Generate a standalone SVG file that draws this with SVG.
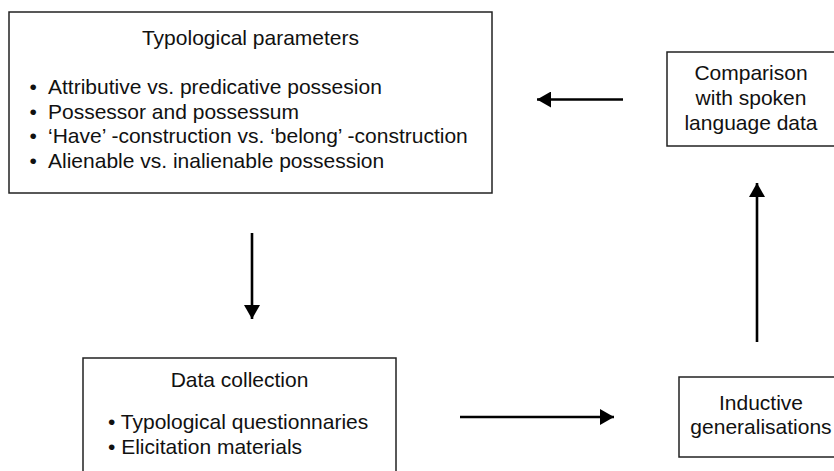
<svg xmlns="http://www.w3.org/2000/svg" width="834" height="471" viewBox="0 0 834 471">
<defs>
<style>
.box{fill:#fff;stroke:#222;stroke-width:1.5}
.t{font-family:"Liberation Sans",Arial,sans-serif;font-size:21px;fill:#111}
.c{text-anchor:middle}
.edge{stroke:#000;stroke-width:2.6;fill:none;marker-end:url(#ah)}
</style>
<marker id="ah" markerUnits="userSpaceOnUse" markerWidth="15" markerHeight="16" refX="14" refY="8" orient="auto">
<path d="M0,0 L14,8 L0,16 Z" fill="#000"/>
</marker>
</defs>
<rect width="834" height="471" fill="#fff"/>
<g id="typological">
<rect class="box" x="9" y="12" width="483" height="181"/>
<text class="t c" x="250.5" y="45">Typological parameters</text>
<text class="t" x="29.5" y="94">•<tspan x="48">Attributive vs. predicative possesion</tspan></text>
<text class="t" x="29.5" y="118.5">•<tspan x="48">Possessor and possessum</tspan></text>
<text class="t" x="29.5" y="143">•<tspan x="48">‘Have’ -construction vs. ‘belong’ -construction</tspan></text>
<text class="t" x="29.5" y="167.5">•<tspan x="48">Alienable vs. inalienable possession</tspan></text>
</g>
<g id="comparison">
<rect class="box" x="667" y="52" width="168" height="94"/>
<text class="t c" x="751" y="80">Comparison</text>
<text class="t c" x="751" y="105">with spoken</text>
<text class="t c" x="751" y="130">language data</text>
</g>
<g id="datacollection">
<rect class="box" x="83" y="358" width="313" height="130"/>
<text class="t c" x="239.5" y="387">Data collection</text>
<text class="t" x="108" y="429">• Typological questionnaries</text>
<text class="t" x="108" y="454">• Elicitation materials</text>
</g>
<g id="inductive">
<rect class="box" x="679" y="377" width="165" height="80"/>
<text class="t c" x="761" y="410">Inductive</text>
<text class="t c" x="761" y="434">generalisations</text>
</g>
<g id="connectors">
<line class="edge" x1="252" y1="233" x2="252" y2="319"/>
<line class="edge" x1="460" y1="417" x2="614" y2="417"/>
<line class="edge" x1="757" y1="342" x2="757" y2="183"/>
<line class="edge" x1="623" y1="99.5" x2="537" y2="99.5"/>
</g>
</svg>
